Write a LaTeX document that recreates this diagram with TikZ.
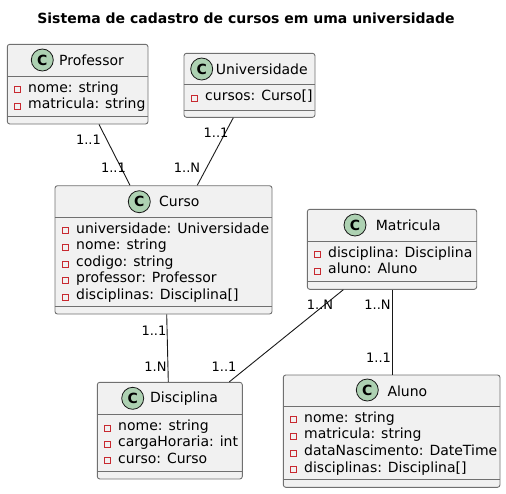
\documentclass[tikz,border=0pt]{standalone}
\usepackage{fontspec}
\setmainfont{DejaVu Sans}
\usepackage{tikz}

\definecolor{boxfill}{RGB}{241,241,241}
\definecolor{boxline}{RGB}{112,112,112}
\definecolor{spotgreen}{RGB}{173,209,178}
\definecolor{privred}{RGB}{200,41,48}
\definecolor{inkline}{RGB}{24,24,24}

\begin{document}
\begin{tikzpicture}[x=1pt, y=-1pt,
		class_style/.style={rectangle,rounded corners=2.5pt,draw=boxline,line width=0.9pt,fill=boxfill,inner sep=0pt},
		line_style/.style={draw=boxline,line width=0.9pt},
		spot_style/.style={circle,draw=inkline,line width=0.8pt,fill=spotgreen,minimum size=22pt,inner sep=0pt,font=\fontsize{14}{14}\selectfont\bfseries},
		name_style/.style={anchor=west,inner sep=0pt,font=\fontsize{14}{16}\selectfont},
		attr_style/.style={anchor=west,inner sep=0pt,text height=10.5pt,text depth=3pt,font=\fontsize{14}{16}\selectfont},
		priv_style/.style={draw=privred,line width=0.9pt},
		mult_style/.style={inner sep=0pt,text height=9.5pt,text depth=0pt,font=\fontsize{13}{15}\selectfont},
		edge_style/.style={draw=inkline,line width=0.9pt}]

		\useasboundingbox (0,0) rectangle (506,493);

		\node[font=\fontsize{14}{16}\selectfont\bfseries] (title) at (246,18) {Sistema de cadastro de cursos em uma universidade};

		% Professor
		\node[class_style,minimum width=140.7pt,minimum height=79.7pt] (prof) at (77.65,84.15) {};
		\draw[line_style] (prof.west |- 0,76.7) -- (prof.east |- 0,76.7);
		\draw[line_style] (prof.west |- 0,116) -- (prof.east |- 0,116);
		\node[spot_style] (prof_c) at (42.3,60) {C};
		\node[name_style] (prof_n) at (59,60.5) {Professor};
		\node[attr_style] (prof_a1) at (28,88.3) {nome: string};
		\node[attr_style] (prof_a2) at (28,105) {matricula: string};
		\draw[priv_style] ([xshift=-13.3pt,yshift=1.5pt]prof_a1.west) rectangle ++(6,6);
		\draw[priv_style] ([xshift=-13.3pt,yshift=1.5pt]prof_a2.west) rectangle ++(6,6);

		% Universidade
		\node[class_style,minimum width=131pt,minimum height=64pt] (univ) at (249.5,85.3) {};
		\draw[line_style] (univ.west |- 0,84.3) -- (univ.east |- 0,84.3);
		\draw[line_style] (univ.west |- 0,110) -- (univ.east |- 0,110);
		\node[spot_style] (univ_c) at (201.7,69) {C};
		\node[name_style] (univ_n) at (215.7,68.8) {Universidade};
		\node[attr_style] (univ_a1) at (205,97) {cursos: Curso[]};
		\draw[priv_style] ([xshift=-13.3pt,yshift=1.5pt]univ_a1.west) rectangle ++(6,6);

		% Curso
		\node[class_style,minimum width=217pt,minimum height=128.3pt] (curso) at (163.5,249.85) {};
		\draw[line_style] (curso.west |- 0,217) -- (curso.east |- 0,217);
		\draw[line_style] (curso.west |- 0,306) -- (curso.east |- 0,306);
		\node[spot_style] (curso_c) at (139.3,201.7) {C};
		\node[name_style] (curso_n) at (159,201.3) {Curso};
		\node[attr_style] (curso_a1) at (76,229.3) {universidade: Universidade};
		\node[attr_style] (curso_a2) at (76,245.9) {nome: string};
		\node[attr_style] (curso_a3) at (76,262.5) {codigo: string};
		\node[attr_style] (curso_a4) at (76,279.1) {professor: Professor};
		\node[attr_style] (curso_a5) at (76,295.7) {disciplinas: Disciplina[]};
		\draw[priv_style] ([xshift=-13.3pt,yshift=1.5pt]curso_a1.west) rectangle ++(6,6);
		\draw[priv_style] ([xshift=-13.3pt,yshift=1.5pt]curso_a2.west) rectangle ++(6,6);
		\draw[priv_style] ([xshift=-13.3pt,yshift=1.5pt]curso_a3.west) rectangle ++(6,6);
		\draw[priv_style] ([xshift=-13.3pt,yshift=1.5pt]curso_a4.west) rectangle ++(6,6);
		\draw[priv_style] ([xshift=-13.3pt,yshift=1.5pt]curso_a5.west) rectangle ++(6,6);

		% Matricula
		\node[class_style,minimum width=169.4pt,minimum height=80pt] (matr) at (392,249.3) {};
		\draw[line_style] (matr.west |- 0,241.7) -- (matr.east |- 0,241.7);
		\draw[line_style] (matr.west |- 0,281) -- (matr.east |- 0,281);
		\node[spot_style] (matr_c) at (355,225) {C};
		\node[name_style] (matr_n) at (375.7,225.5) {Matricula};
		\node[attr_style] (matr_a1) at (328,253.3) {disciplina: Disciplina};
		\node[attr_style] (matr_a2) at (328,270) {aluno: Aluno};
		\draw[priv_style] ([xshift=-13.3pt,yshift=1.5pt]matr_a1.west) rectangle ++(6,6);
		\draw[priv_style] ([xshift=-13.3pt,yshift=1.5pt]matr_a2.west) rectangle ++(6,6);

		% Disciplina
		\node[class_style,minimum width=145pt,minimum height=96.7pt] (disc) at (169.8,430.65) {};
		\draw[line_style] (disc.west |- 0,414.3) -- (disc.east |- 0,414.3);
		\draw[line_style] (disc.west |- 0,471.7) -- (disc.east |- 0,471.7);
		\node[spot_style] (disc_c) at (132.7,398.3) {C};
		\node[name_style] (disc_n) at (150,398.3) {Disciplina};
		\node[attr_style] (disc_a1) at (118,426.7) {nome: string};
		\node[attr_style] (disc_a2) at (118,443) {cargaHoraria: int};
		\node[attr_style] (disc_a3) at (118,459.3) {curso: Curso};
		\draw[priv_style] ([xshift=-13.3pt,yshift=1.5pt]disc_a1.west) rectangle ++(6,6);
		\draw[priv_style] ([xshift=-13.3pt,yshift=1.5pt]disc_a2.west) rectangle ++(6,6);
		\draw[priv_style] ([xshift=-13.3pt,yshift=1.5pt]disc_a3.west) rectangle ++(6,6);

		% Aluno
		\node[class_style,minimum width=216.7pt,minimum height=112.3pt] (aluno) at (391.65,431.15) {};
		\draw[line_style] (aluno.west |- 0,406.7) -- (aluno.east |- 0,406.7);
		\draw[line_style] (aluno.west |- 0,479.3) -- (aluno.east |- 0,479.3);
		\node[spot_style] (aluno_c) at (367.3,390) {C};
		\node[name_style] (aluno_n) at (387.3,390.8) {Aluno};
		\node[attr_style] (aluno_a1) at (304,418.3) {nome: string};
		\node[attr_style] (aluno_a2) at (304,435) {matricula: string};
		\node[attr_style] (aluno_a3) at (304,451.7) {dataNascimento: DateTime};
		\node[attr_style] (aluno_a4) at (304,468.3) {disciplinas: Disciplina[]};
		\draw[priv_style] ([xshift=-13.3pt,yshift=1.5pt]aluno_a1.west) rectangle ++(6,6);
		\draw[priv_style] ([xshift=-13.3pt,yshift=1.5pt]aluno_a2.west) rectangle ++(6,6);
		\draw[priv_style] ([xshift=-13.3pt,yshift=1.5pt]aluno_a3.west) rectangle ++(6,6);
		\draw[priv_style] ([xshift=-13.3pt,yshift=1.5pt]aluno_a4.west) rectangle ++(6,6);

		% associations
		\draw[edge_style] ([xshift=21.35pt]prof.south) -- ([xshift=-33.5pt]curso.north);
		\draw[edge_style] ([xshift=-16.2pt]univ.south) -- ([xshift=33.8pt]curso.north);
		\draw[edge_style] ([xshift=3.2pt]curso.south) -- ([xshift=-1.5pt]disc.north);
		\draw[edge_style] ([xshift=-48.7pt]matr.south) -- ([xshift=59.5pt]disc.north);
		\draw[edge_style] ([xshift=0.7pt]matr.south) -- ([xshift=0.7pt]matr.south |- aluno.north);

		% multiplicities
		\node[mult_style] (m1) at (88.5,140) {1..1};
		\node[mult_style] (m2) at (113.5,168) {1..1};
		\node[mult_style] (m3) at (216,133) {1..1};
		\node[mult_style] (m4) at (187,168) {1..N};
		\node[mult_style] (m5) at (154,331) {1..1};
		\node[mult_style] (m6) at (155.5,367) {1.N};
		\node[mult_style] (m7) at (320,305) {1..N};
		\node[mult_style] (m8) at (224,367) {1..1};
		\node[mult_style] (m9) at (377.5,305) {1..N};
		\node[mult_style] (m10) at (378.5,358) {1..1};
\end{tikzpicture}
\end{document}
